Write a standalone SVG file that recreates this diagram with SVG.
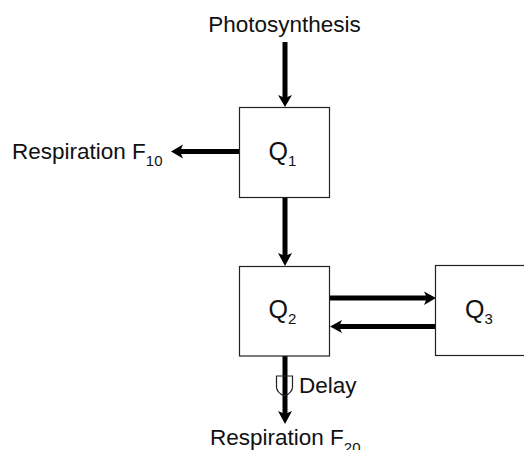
<svg xmlns="http://www.w3.org/2000/svg" width="524" height="450" viewBox="0 0 524 450">
<style>
text{font-family:"Liberation Sans",Arial,sans-serif;fill:#111}
.l{font-size:22.500px}
.q{font-size:25px}
.s{font-size:15px}
.b{fill:#fff;stroke:#222;stroke-width:1.2}
.c{fill:none;stroke:#000;stroke-width:5}
.h{fill:#000;stroke:none}
</style>
<rect width="524" height="450" fill="#fff"/>
<g id="connectors">
<path class="c" d="M285 42V98"/><path class="h" d="M278 95L285 98L292 95L285 107Z"/>
<path class="c" d="M239 151.500H180"/><path class="h" d="M183 144.500L180 151.500L183 158.500L171 151.500Z"/>
<path class="c" d="M285 197V256"/><path class="h" d="M278 253L285 256L292 253L285 266Z"/>
<path class="c" d="M329 298H427"/><path class="h" d="M424 291.500L427 298L424 305L436 298Z"/>
<path class="c" d="M436 326.500H339"/><path class="h" d="M342 320L339 326.500L342 333L330 326.500Z"/>
<path class="c" d="M285 356V414"/><path class="h" d="M278 411L285 414L292 411L285 424Z"/>
</g>
<g id="delay-symbol"><path d="M276.500 376H292.500V387C292.500 392 288 394.500 284.500 396C281 394.500 276.500 392 276.500 387Z" fill="none" stroke="#222" stroke-width="1.200"/></g>
<g id="photosynthesis"><text class="l" x="284.500" y="32" text-anchor="middle">Photosynthesis</text></g>
<g id="q1"><rect class="b" x="239.500" y="107.500" width="90" height="90"/><text class="q" x="268.500" y="159.500">Q<tspan class="s" dy="6">1</tspan></text></g>
<g id="q2"><rect class="b" x="239.500" y="266.500" width="90" height="89.500"/><text class="q" x="268.500" y="318">Q<tspan class="s" dy="6">2</tspan></text></g>
<g id="q3"><rect class="b" x="435.500" y="265.500" width="90" height="90"/><text class="q" x="465" y="318">Q<tspan class="s" dy="6">3</tspan></text></g>
<g id="respiration-f10"><text class="l" x="12" y="159">Respiration F<tspan class="s" dy="7">10</tspan></text></g>
<g id="delay-label"><text class="l" x="299" y="393">Delay</text></g>
<g id="respiration-f20"><text class="l" x="210" y="444.500">Respiration F<tspan class="s" dy="8">20</tspan></text></g>
</svg>
